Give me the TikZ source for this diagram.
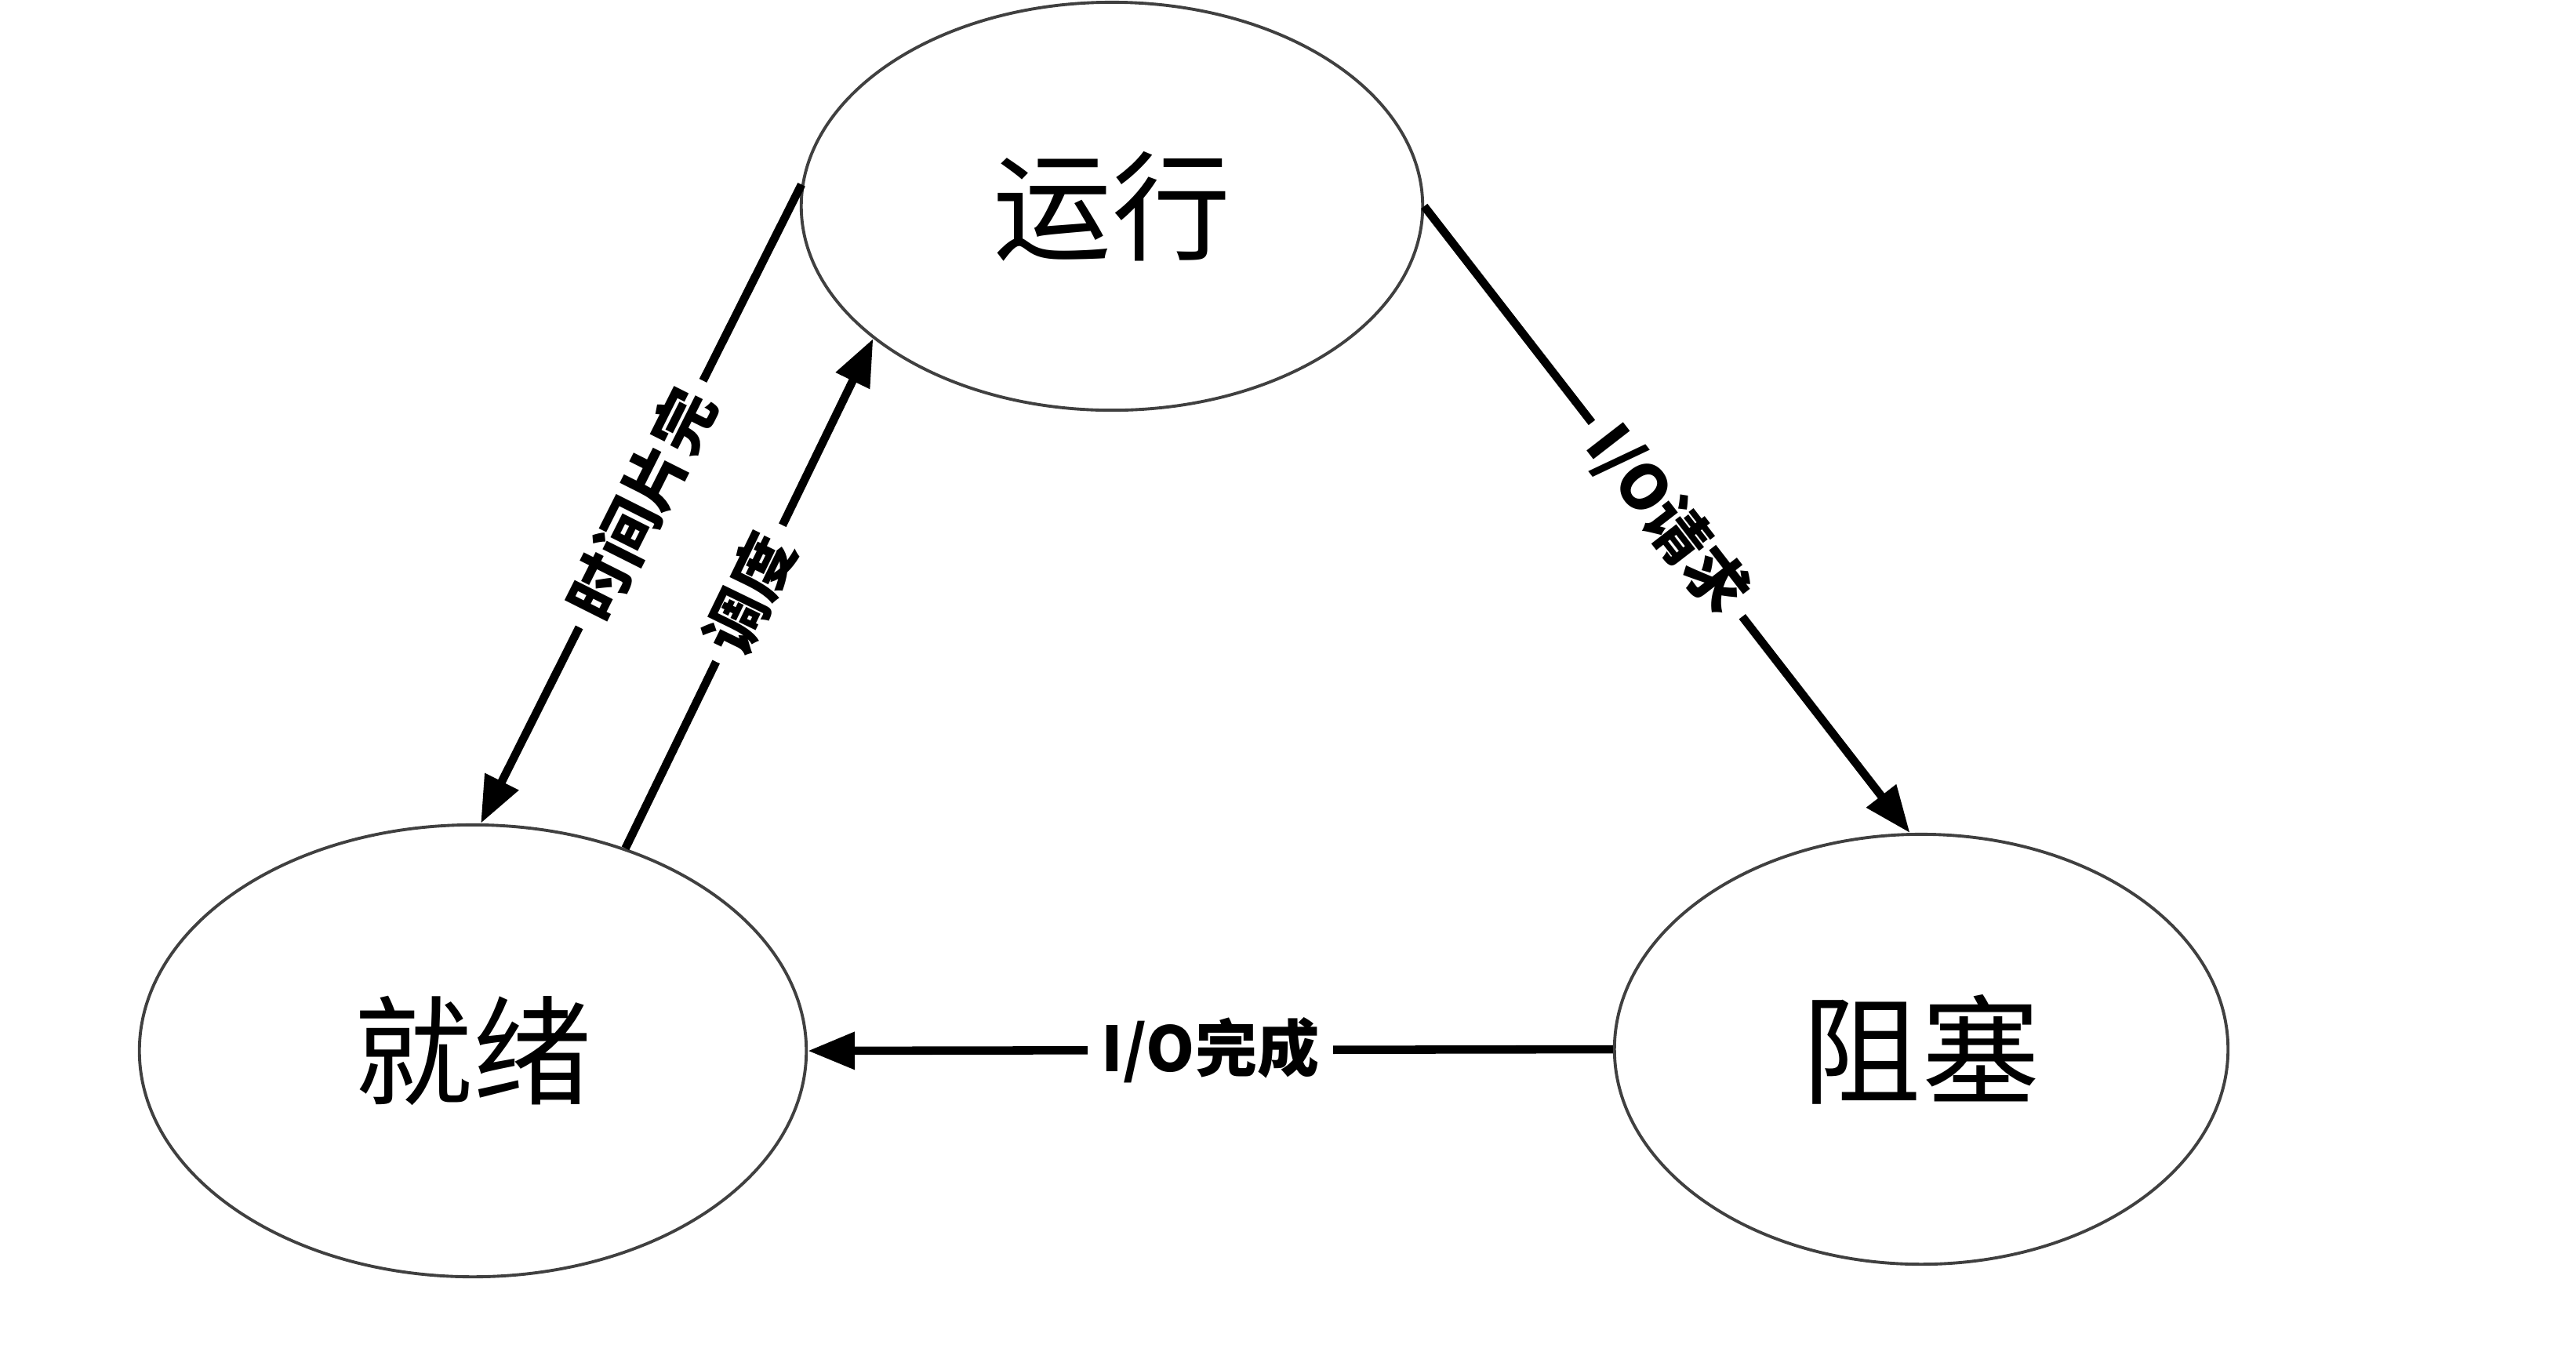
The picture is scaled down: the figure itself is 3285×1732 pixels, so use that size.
\documentclass[tikz,border=0pt]{standalone}
\usepackage{fontspec}
\setmainfont{Noto Sans CJK SC}
\usetikzlibrary{shapes.geometric,arrows.meta}
\begin{document}
\begin{tikzpicture}[x=0.01cm,y=-0.01cm,
  state/.style={ellipse,draw=black!75,line width=1.1pt,inner sep=0pt,
    font=\fontsize{43}{48}\selectfont},
  conn/.style={line width=3pt,-{Triangle[length=17pt,width=13pt]}},
  lbl/.style={fill=white,inner sep=5pt,font=\bfseries\fontsize{22.5}{26}\selectfont}]
\useasboundingbox[fill=white] (0,0) rectangle (3285,1732);
\node[state,minimum width=7.92cm,minimum height=5.2cm] (run) at (1418,263) {运行};
\node[state,minimum width=8.5cm,minimum height=5.76cm] (ready) at (603,1340) {就绪};
\node[state,minimum width=7.82cm,minimum height=5.48cm] (block) at (2450,1338) {阻塞};
\draw[conn] (run.176.5) -- node[lbl,sloped]{时间片完} (ready.88);
\draw[conn] (ready.53.5) -- node[lbl,sloped]{调度} (run.209.8);
\draw[conn] (run.-0.5) -- node[lbl,sloped]{I/O请求} (block.93.3);
\draw[conn] (block.west) -- node[lbl]{I/O完成} (ready.east);
\end{tikzpicture}
\end{document}
